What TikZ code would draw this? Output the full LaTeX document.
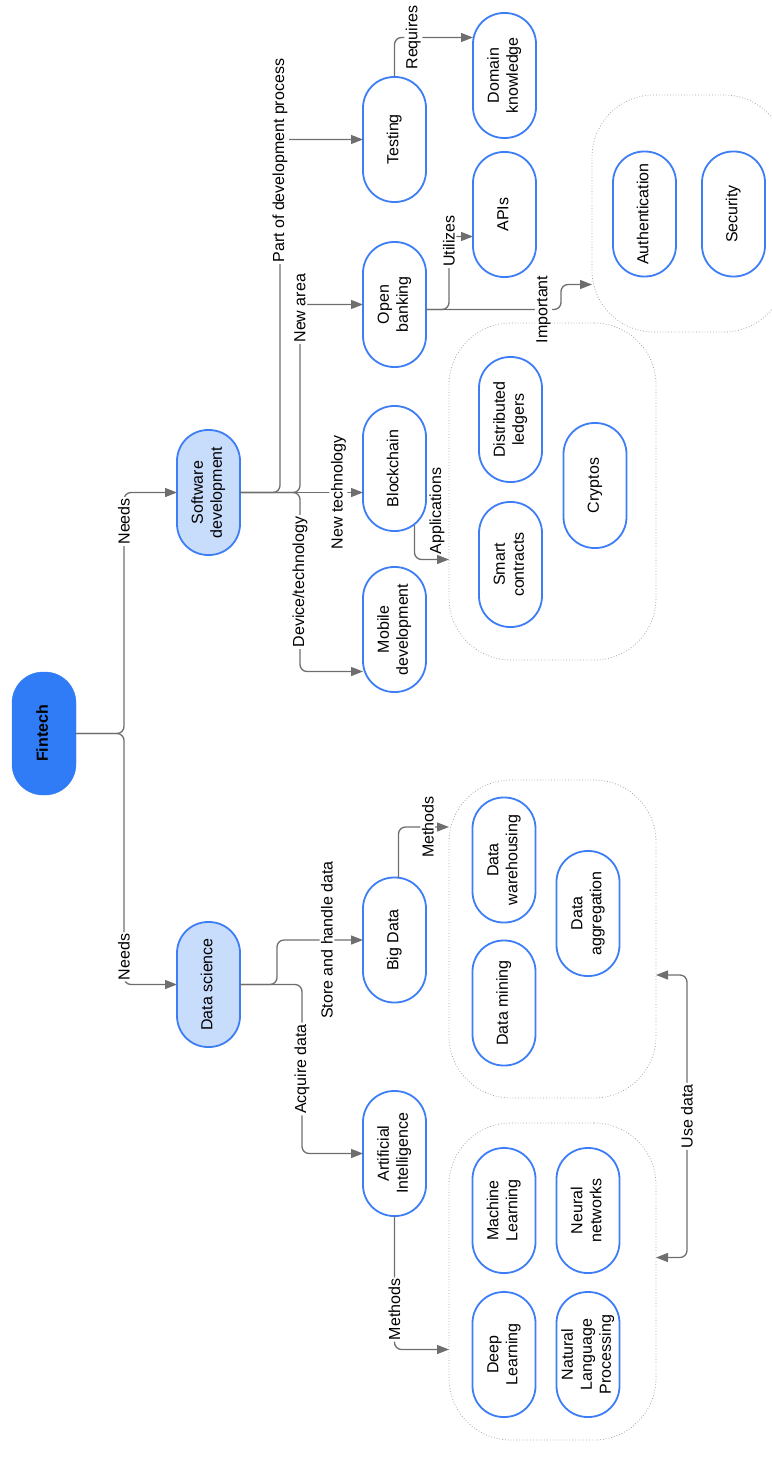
\documentclass[tikz,border=0pt]{standalone}
\usepackage{fontspec}
\setmainfont{Liberation Sans}
\usepackage{graphicx}
\usetikzlibrary{positioning}
\usetikzlibrary{arrows.meta}

\definecolor{boxblue}{HTML}{3D7EF6}
\definecolor{topicfill}{HTML}{C8DDFC}
\definecolor{fintechfill}{HTML}{2F7CF6}
\definecolor{linegray}{HTML}{6E6E6E}

\newcommand{\vlabel}[1]{\rotatebox{90}{\begin{tabular}{@{}c@{}}#1\end{tabular}}}

\begin{document}
\begin{tikzpicture}[x=1pt, y=-1pt,
                          every node/.style={font=\fontsize{16}{19}\selectfont},
                          >={Triangle[length=12pt, width=9pt]},
                          mainnode/.style={rectangle, rounded corners=31pt, fill=fintechfill, draw=fintechfill, minimum width=64pt, minimum height=123pt, outer sep=0pt, font=\fontsize{16}{19}\selectfont\bfseries},
                          topicnode/.style={rectangle, rounded corners=31pt, draw=boxblue, fill=topicfill, line width=1.8pt, minimum width=63pt, minimum height=125pt, inner sep=2pt, outer sep=0pt},
                          itemnode/.style={rectangle, rounded corners=31pt, draw=boxblue, fill=white, line width=1.8pt, minimum width=63pt, minimum height=125pt, inner sep=2pt, outer sep=0pt},
                          groupnode/.style={rectangle, rounded corners=62pt, draw=gray!70, dotted, line width=0.8pt, inner sep=0pt, outer sep=0pt},
                          edgelabel/.style={fill=white, inner sep=1.5pt, rotate=90},
                          conn/.style={draw=linegray, line width=1.3pt, rounded corners=7pt, ->},
                      ]
                      \useasboundingbox (0,0) rectangle (771,1458);

                      % Groups
                      \node[groupnode, minimum width=194pt, minimum height=237pt] (authgrp) at (689,213.5) {};
                      \node[groupnode, minimum width=207pt, minimum height=337pt] (bcgrp) at (552.5,491.5) {};
                      \node[groupnode, minimum width=207pt, minimum height=318pt] (bdgrp) at (552.5,939) {};
                      \node[groupnode, minimum width=207pt, minimum height=317pt] (aigrp) at (552.5,1281.5) {};

                      % Nodes
                      \node[mainnode]         (fintech)      at (44,733.5)                {\vlabel{Fintech}};

                      \node[topicnode]        (softdev)      at (208.5,492.5)             {\vlabel{Software\\development}};
                      \node[topicnode]        (datasci)      at (208.5,984.5)             {\vlabel{Data science}};

                      \node[itemnode]         (testing)      at (394.5,139.5)             {\vlabel{Testing}};
                      \node[itemnode]         (openbank)     [below=40pt of testing]      {\vlabel{Open\\banking}};
                      \node[itemnode]         (blockchain)   [below=39pt of openbank]     {\vlabel{Blockchain}};
                      \node[itemnode]         (mobiledev)    [below=36pt of blockchain]   {\vlabel{Mobile\\development}};
                      \node[itemnode]         (bigdata)      at (394.5,940)               {\vlabel{Big Data}};
                      \node[itemnode]         (artint)       at (394.5,1153.5)            {\vlabel{Artificial\\Intelligence}};

                      \node[itemnode]         (domain)       at (504.5,75.5)              {\vlabel{Domain\\knowledge}};
                      \node[itemnode]         (apis)         [below=14pt of domain]       {\vlabel{APIs}};
                      \node[itemnode]         (auth)         at (644.5,214)               {\vlabel{Authentication}};
                      \node[itemnode]         (security)     [right=26pt of auth]         {\vlabel{Security}};

                      \node[itemnode]         (ledgers)      at (510.5,419.5)             {\vlabel{Distributed\\ledgers}};
                      \node[itemnode]         (smart)        [below=20pt of ledgers]      {\vlabel{Smart\\contracts}};
                      \node[itemnode]         (cryptos)      at (595,485.5)               {\vlabel{Cryptos}};

                      \node[itemnode]         (warehouse)    at (504,860)                 {\vlabel{Data\\warehousing}};
                      \node[itemnode]         (mining)       [below=18pt of warehouse]    {\vlabel{Data mining}};
                      \node[itemnode]         (aggregation)  at (588,913.5)               {\vlabel{Data\\aggregation}};

                      \node[itemnode]         (ml)           at (504,1210.5)              {\vlabel{Machine\\Learning}};
                      \node[itemnode]         (neural)       [right=21pt of ml]           {\vlabel{Neural\\networks}};
                      \node[itemnode]         (deep)         [below=19pt of ml]           {\vlabel{Deep\\Learning}};
                      \node[itemnode]         (nlp)          [below=19pt of neural]       {\vlabel{Natural\\Language\\Processing}};

                      \node[edgelabel, fill=none] (applabel) at (437,511) {Applications};

                      %Lines
                      \draw[conn] (fintech.east) -- ++(48,0) |- node[edgelabel, pos=0.44] {Needs} (softdev.west);
                      \draw[conn] (fintech.east) -- ++(48,0) |- node[edgelabel, pos=0.445] {Needs} (datasci.west);

                      \draw[conn] (datasci.east) -- ++(37,0) |- node[edgelabel, pos=0.79] {Store and handle data} (bigdata.west);
                      \draw[conn] (datasci.east) -- ++(62,0) |- node[edgelabel, pos=0.25] {Acquire data} (artint.west);

                      \draw[conn] (softdev.east) -- ++(40,0) |- node[edgelabel, pos=0.47] {Part of development process} (testing.west);
                      \draw[conn] (softdev.east) -- ++(60,0) |- node[edgelabel, pos=0.49] {New area} (openbank.west);
                      \draw[conn] (softdev.east) -- node[edgelabel, pos=0.8] {New technology} (softdev.east -| blockchain.west);
                      \draw[conn] (softdev.east) -- ++(60,0) |- node[edgelabel, pos=0.25] {Device/technology} ([yshift=-42pt]mobiledev.west);

                      \draw[conn] (testing.north) |- node[edgelabel, pos=0.62] {Requires} ([yshift=38pt]domain.west);
                      \draw[conn] ([yshift=-5pt]openbank.east) -- ++(23,0) |- node[edgelabel, pos=0.47] {Utilizes} ([yshift=-22pt]apis.west);
                      \draw[conn] ([yshift=-5pt]openbank.east) -- node[edgelabel, pos=0.87] {Important} ++(135,0) |- ([yshift=-71pt]authgrp.west);
                      \draw[conn] ([xshift=20pt, yshift=6pt]blockchain.south) |- ([yshift=-68pt]bcgrp.west);

                      \draw[conn] ([xshift=4pt]bigdata.north) |- node[edgelabel, pos=0.79] {Methods} ([yshift=112pt]bdgrp.west);
                      \draw[conn] (artint.south) |- node[edgelabel, pos=0.35] {Methods} ([yshift=-68pt]aigrp.west);
                      \draw[conn, <->] ([yshift=-36pt]bdgrp.east) -- ++(31,0) |- node[edgelabel, pos=0.25] {Use data} ([yshift=24pt]aigrp.east);
                  \end{tikzpicture}
\end{document}
